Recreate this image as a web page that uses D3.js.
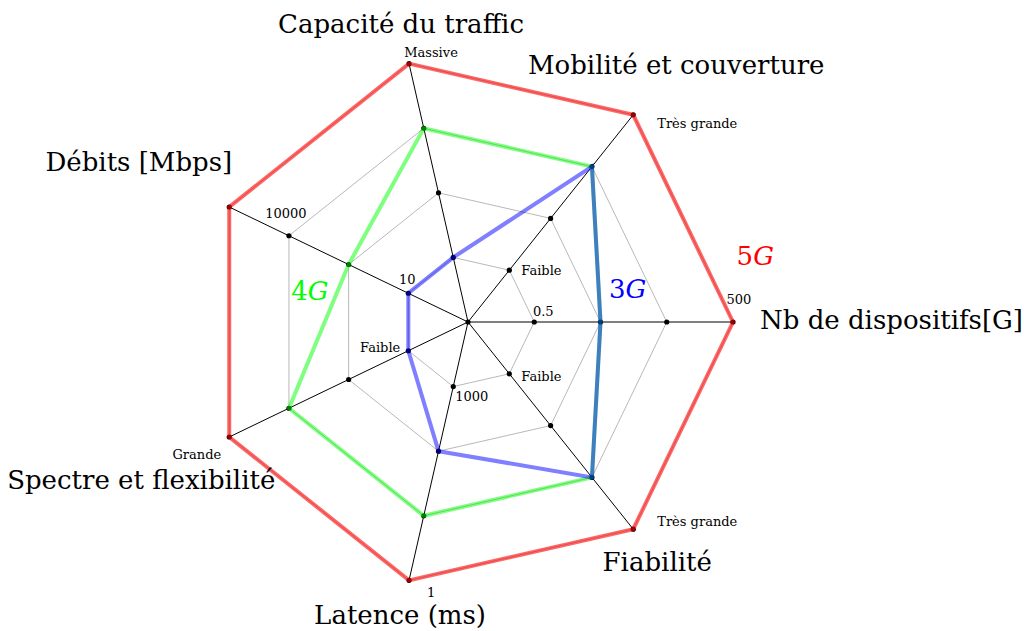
<!DOCTYPE html>
<html><head><meta charset="utf-8">
<script src="https://cdn.jsdelivr.net/npm/d3@7"></script>
<style>body{margin:0;background:#fff}svg{display:block}</style>
</head><body>
<svg id="c" width="1024" height="631"></svg>
<script>
// ---- data ----
const axesNames = ["Nb de dispositifs[G]", "Mobilité et couverture", "Capacité du traffic", "Débits [Mbps]", "Spectre et flexibilité", "Latence (ms)", "Fiabilité"];
const levels = [1, 2, 3, 4];
const series5G = [4, 4, 4, 4, 4, 4, 4];
const series4G = [2, 3, 3, 2, 3, 3, 3];
const series3G = [2, 3, 1, 1, 1, 2, 3];
const seriesNames = ["5G", "4G", "3G"];
const tickAxis  = [0, 0, 1, 1, 2, 3, 3, 4, 4, 5, 5, 6, 6];
const tickLevel = [1, 4, 1, 4, 4, 1, 3, 1, 4, 1, 4, 1, 4];
const tickText  = ["0.5", "500", "Faible", "Très grande", "Massive", "10", "10000", "Faible", "Grande", "1000", "1", "Faible", "Très grande"];

// ---- layout (positions/styles) ----
const cx = 468, cy = 322, R = 265;
const axisLabelLayout = [
  {dx: 27, dy: -2, anchor: "start"},
  {dx: 43, dy: -50, anchor: "middle"},
  {dx: -8, dy: -40, anchor: "middle"},
  {dx: 3, dy: -45, anchor: "end"},
  {dx: -88, dy: 43, anchor: "middle"},
  {dx: -9, dy: 35, anchor: "middle"},
  {dx: 24, dy: 33, anchor: "middle"}
];
const tickLayout = [
  {dx: 9, dy: -11, anchor: "middle"},
  {dx: 6, dy: -23, anchor: "middle"},
  {dx: 12, dy: 0, anchor: "start"},
  {dx: 24, dy: 9, anchor: "start"},
  {dx: 22, dy: -11, anchor: "middle"},
  {dx: -1, dy: -14, anchor: "middle"},
  {dx: -3, dy: -22, anchor: "middle"},
  {dx: -8, dy: -3, anchor: "end"},
  {dx: -8, dy: 18, anchor: "end"},
  {dx: 2, dy: 10, anchor: "start"},
  {dx: 22, dy: 12, anchor: "middle"},
  {dx: 12, dy: 3, anchor: "start"},
  {dx: 24, dy: -8, anchor: "start"}
];
const seriesStyle = [
  {color: "rgb(255,0,0)", opacity: 0.6, labelR: 4.45, labelA: 13},
  {color: "rgb(0,255,0)", opacity: 0.5, labelR: 2.43, labelA: 169},
  {color: "rgb(0,0,255)", opacity: 0.5, labelR: 2.46, labelA: 11.7}
];

const svg = d3.select("#c");
const r = d3.scaleLinear().domain([0, 4]).range([0, R]);
const n = axesNames.length;
const ang = d3.scaleLinear().domain([0, n]).range([0, 2 * Math.PI]);
const pt = (i, v) => [cx + r(v) * Math.cos(ang(i)), cy - r(v) * Math.sin(ang(i))];
const line = d3.line().curve(d3.curveLinearClosed);
const serif = "'DejaVu Serif', serif";

// grid
svg.append("g").selectAll("path").data(levels).join("path")
  .attr("d", l => line(d3.range(n).map(i => pt(i, l))))
  .attr("fill", "none").attr("stroke", "#b0b0b0").attr("stroke-width", 0.9);

// axes
svg.append("g").selectAll("line").data(d3.range(n)).join("line")
  .attr("x1", cx).attr("y1", cy)
  .attr("x2", i => pt(i, 4)[0]).attr("y2", i => pt(i, 4)[1])
  .attr("stroke", "#000").attr("stroke-width", 1);

// dots
const dotData = [];
d3.range(n).forEach(i => levels.forEach(l => dotData.push([i, l])));
const dg = svg.append("g");
dg.selectAll("circle").data(dotData).join("circle")
  .attr("cx", d => pt(d[0], d[1])[0]).attr("cy", d => pt(d[0], d[1])[1])
  .attr("r", 2.6).attr("fill", "#000");
dg.append("circle").attr("cx", cx).attr("cy", cy).attr("r", 2.6).attr("fill", "#000");

// series
const allSeries = [series5G, series4G, series3G];
svg.append("g").selectAll("path").data(allSeries).join("path")
  .attr("d", s => line(s.map((v, i) => pt(i, v))))
  .attr("fill", "none")
  .attr("stroke", (s, k) => seriesStyle[k].color)
  .attr("stroke-opacity", (s, k) => seriesStyle[k].opacity)
  .attr("stroke-width", 4)
  .attr("stroke-linejoin", "miter");

// axis labels
svg.append("g").selectAll("text").data(axesNames).join("text")
  .attr("x", (d, i) => pt(i, 4)[0] + axisLabelLayout[i].dx)
  .attr("y", (d, i) => pt(i, 4)[1] + axisLabelLayout[i].dy)
  .attr("text-anchor", (d, i) => axisLabelLayout[i].anchor)
  .attr("dominant-baseline", "central")
  .attr("font-family", serif).attr("font-size", 26).attr("fill", "#000")
  .text(d => d);

// tick labels
svg.append("g").selectAll("text").data(tickText).join("text")
  .attr("x", (d, k) => pt(tickAxis[k], tickLevel[k])[0] + tickLayout[k].dx)
  .attr("y", (d, k) => pt(tickAxis[k], tickLevel[k])[1] + tickLayout[k].dy)
  .attr("text-anchor", (d, k) => tickLayout[k].anchor)
  .attr("dominant-baseline", "central")
  .attr("font-family", serif).attr("font-size", 13).attr("fill", "#000")
  .text(d => d);

// series labels
const sl = svg.append("g").selectAll("text").data(seriesNames).join("text")
  .attr("x", (d, k) => cx + r(seriesStyle[k].labelR) * Math.cos(seriesStyle[k].labelA * Math.PI / 180))
  .attr("y", (d, k) => cy - r(seriesStyle[k].labelR) * Math.sin(seriesStyle[k].labelA * Math.PI / 180))
  .attr("text-anchor", "middle").attr("dominant-baseline", "central")
  .attr("font-family", serif).attr("font-size", 26)
  .attr("fill", (d, k) => seriesStyle[k].color);
sl.append("tspan").text(d => d.slice(0, 1));
sl.append("tspan").attr("font-style", "italic").text(d => d.slice(1));
</script>
</body></html>
